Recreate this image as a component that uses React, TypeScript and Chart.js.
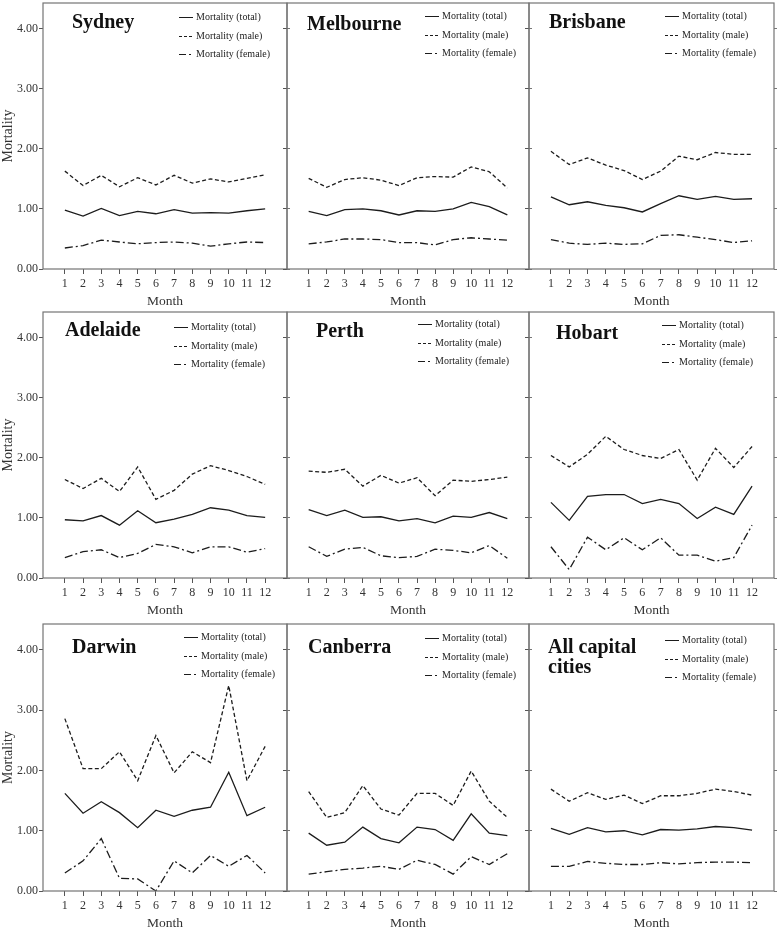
import React, { useEffect, useRef } from "react";
import { Chart, registerables } from "chart.js";

Chart.register(...registerables);

const FONT = "'Liberation Serif', 'Times New Roman', serif";

// ---------- DATA ----------
const MONTHS = [1, 2, 3, 4, 5, 6, 7, 8, 9, 10, 11, 12];
const Y_TICKS = [0, 1, 2, 3, 4];
const Y_TICK_LABELS = ["0.00", "1.00", "2.00", "3.00", "4.00"];
const SERIES_LABELS = ["Mortality (total)", "Mortality (male)", "Mortality (female)"];
const X_TITLE = "Month";
const Y_TITLE = "Mortality";

const CITY_TITLES = [
  ["Sydney"],
  ["Melbourne"],
  ["Brisbane"],
  ["Adelaide"],
  ["Perth"],
  ["Hobart"],
  ["Darwin"],
  ["Canberra"],
  ["All capital", "cities"],
];

const SYDNEY_TOTAL = [0.98, 0.88, 1.01, 0.89, 0.96, 0.92, 0.99, 0.93, 0.94, 0.93, 0.97, 1.0];
const SYDNEY_MALE = [1.63, 1.39, 1.56, 1.37, 1.52, 1.4, 1.56, 1.43, 1.5, 1.45, 1.51, 1.57];
const SYDNEY_FEMALE = [0.35, 0.39, 0.48, 0.45, 0.42, 0.44, 0.45, 0.43, 0.38, 0.42, 0.45, 0.44];

const MELBOURNE_TOTAL = [0.96, 0.89, 0.99, 1.0, 0.97, 0.9, 0.97, 0.96, 1.0, 1.11, 1.04, 0.9];
const MELBOURNE_MALE = [1.51, 1.36, 1.49, 1.52, 1.48, 1.39, 1.52, 1.54, 1.53, 1.7, 1.62, 1.35];
const MELBOURNE_FEMALE = [0.42, 0.45, 0.5, 0.5, 0.49, 0.44, 0.44, 0.4, 0.49, 0.52, 0.5, 0.48];

const BRISBANE_TOTAL = [1.2, 1.07, 1.12, 1.06, 1.02, 0.95, 1.09, 1.22, 1.16, 1.21, 1.16, 1.17];
const BRISBANE_MALE = [1.96, 1.74, 1.85, 1.73, 1.64, 1.49, 1.63, 1.88, 1.82, 1.94, 1.91, 1.91];
const BRISBANE_FEMALE = [0.49, 0.43, 0.41, 0.43, 0.41, 0.42, 0.56, 0.57, 0.53, 0.49, 0.44, 0.47];

const ADELAIDE_TOTAL = [0.97, 0.95, 1.04, 0.88, 1.12, 0.92, 0.98, 1.06, 1.17, 1.13, 1.04, 1.01];
const ADELAIDE_MALE = [1.64, 1.49, 1.66, 1.44, 1.85, 1.31, 1.46, 1.73, 1.87, 1.79, 1.69, 1.56];
const ADELAIDE_FEMALE = [0.34, 0.44, 0.47, 0.34, 0.41, 0.56, 0.52, 0.42, 0.52, 0.52, 0.43, 0.49];

const PERTH_TOTAL = [1.14, 1.04, 1.13, 1.01, 1.02, 0.95, 0.99, 0.92, 1.03, 1.01, 1.09, 0.99];
const PERTH_MALE = [1.78, 1.76, 1.81, 1.53, 1.71, 1.58, 1.67, 1.37, 1.63, 1.61, 1.64, 1.68];
const PERTH_FEMALE = [0.52, 0.36, 0.48, 0.51, 0.37, 0.34, 0.36, 0.48, 0.46, 0.42, 0.54, 0.33];

const HOBART_TOTAL = [1.26, 0.96, 1.36, 1.39, 1.39, 1.24, 1.31, 1.24, 0.99, 1.18, 1.06, 1.53];
const HOBART_MALE = [2.04, 1.85, 2.06, 2.36, 2.14, 2.04, 1.99, 2.14, 1.63, 2.16, 1.84, 2.19];
const HOBART_FEMALE = [0.52, 0.14, 0.68, 0.47, 0.67, 0.47, 0.67, 0.38, 0.38, 0.28, 0.34, 0.88];

const DARWIN_TOTAL = [1.62, 1.29, 1.48, 1.3, 1.05, 1.34, 1.24, 1.34, 1.39, 1.97, 1.25, 1.39];
const DARWIN_MALE = [2.86, 2.03, 2.03, 2.31, 1.83, 2.58, 1.96, 2.31, 2.13, 3.41, 1.83, 2.4];
const DARWIN_FEMALE = [0.3, 0.5, 0.87, 0.21, 0.2, 0.0, 0.5, 0.3, 0.59, 0.41, 0.59, 0.3];

const CANBERRA_TOTAL = [0.96, 0.76, 0.81, 1.06, 0.87, 0.8, 1.06, 1.02, 0.84, 1.28, 0.96, 0.92];
const CANBERRA_MALE = [1.65, 1.22, 1.3, 1.75, 1.36, 1.26, 1.62, 1.62, 1.42, 1.99, 1.49, 1.22];
const CANBERRA_FEMALE = [0.28, 0.32, 0.36, 0.38, 0.41, 0.36, 0.51, 0.44, 0.28, 0.57, 0.44, 0.62];

const ALL_TOTAL = [1.04, 0.94, 1.05, 0.98, 1.0, 0.93, 1.02, 1.01, 1.03, 1.07, 1.05, 1.01];
const ALL_MALE = [1.69, 1.49, 1.63, 1.52, 1.59, 1.45, 1.58, 1.58, 1.62, 1.69, 1.65, 1.59];
const ALL_FEMALE = [0.41, 0.41, 0.49, 0.46, 0.44, 0.44, 0.47, 0.45, 0.47, 0.48, 0.48, 0.47];

const SERIES = [
  [SYDNEY_TOTAL, SYDNEY_MALE, SYDNEY_FEMALE],
  [MELBOURNE_TOTAL, MELBOURNE_MALE, MELBOURNE_FEMALE],
  [BRISBANE_TOTAL, BRISBANE_MALE, BRISBANE_FEMALE],
  [ADELAIDE_TOTAL, ADELAIDE_MALE, ADELAIDE_FEMALE],
  [PERTH_TOTAL, PERTH_MALE, PERTH_FEMALE],
  [HOBART_TOTAL, HOBART_MALE, HOBART_FEMALE],
  [DARWIN_TOTAL, DARWIN_MALE, DARWIN_FEMALE],
  [CANBERRA_TOTAL, CANBERRA_MALE, CANBERRA_FEMALE],
  [ALL_TOTAL, ALL_MALE, ALL_FEMALE],
];

// ---------- LAYOUT ----------
const COL_LEFT = [43, 287, 529];
const COL_RIGHT = [287, 529, 774];
const ROW_TOP = [3, 312, 624];
const ROW_BOTTOM = [269, 578, 891];
const PAD_T = 10;
const PAD_B = 41;
const PAD_R = 5;
const PAD_L_INNER = 8;

const TITLE_DX = [29, 20, 20, 22, 29, 27, 29, 21, 19];
const TITLE_DY = [25, 27, 25, 24, 25, 27, 29, 29, 29];
const LEGEND_DX = [91, 87, 92, 96, 94, 95, 86, 87, 92];
const LEGEND_DY = [14, 13, 13, 15, 12, 13, 13, 14, 16];

const LINE_DASH = [[], [4, 2.5], [8, 3, 2, 3]];
const LEGEND_DASH = [[], [3, 2], [7, 3, 2, 3]];
const INK = "#1c1c1c";

const decoPlugin = {
  id: "panelDeco",
  afterDraw(chart: any, _args: any, opts: any) {
    const { ctx, chartArea: a } = chart;
    ctx.save();
    ctx.strokeStyle = "#747474";
    ctx.lineWidth = 1.2;
    ctx.setLineDash([]);
    ctx.strokeRect(a.left, a.top, a.right - a.left, a.bottom - a.top);

    ctx.fillStyle = "#111";
    ctx.font = `bold 20px ${FONT}`;
    ctx.textAlign = "left";
    ctx.textBaseline = "alphabetic";
    (opts.title || []).forEach((t: string, i: number) => {
      ctx.fillText(t, a.left + opts.titleDx, a.top + opts.titleDy + i * 20);
    });

    ctx.font = `10px ${FONT}`;
    ctx.textBaseline = "middle";
    const tx = a.right - opts.legendDx;
    chart.data.datasets.forEach((ds: any, i: number) => {
      const y = Math.round(a.top + opts.legendDy + i * 18.5) + 0.5;
      ctx.beginPath();
      ctx.setLineDash(LEGEND_DASH[i]);
      ctx.strokeStyle = INK;
      ctx.lineWidth = 1;
      ctx.moveTo(tx - 17, y);
      ctx.lineTo(tx - 3, y);
      ctx.stroke();
      ctx.setLineDash([]);
      ctx.fillStyle = "#222";
      ctx.fillText(ds.label, tx, y);
    });
    ctx.restore();
  },
};

function Panel({ index }: { index: number }) {
  const ref = useRef<HTMLCanvasElement | null>(null);
  const col = index % 3;
  const row = Math.floor(index / 3);
  const padL = col === 0 ? COL_LEFT[0] : PAD_L_INNER;
  const chartW = COL_RIGHT[col] - COL_LEFT[col];
  const chartH = ROW_BOTTOM[row] - ROW_TOP[row];
  const width = padL + chartW + PAD_R;
  const height = PAD_T + chartH + PAD_B;
  const left = COL_LEFT[col] - padL;
  const top = ROW_TOP[row] - PAD_T;

  useEffect(() => {
    if (!ref.current) return;
    const showY = col === 0;
    const datasets = SERIES[index].map((vals, s) => ({
      label: SERIES_LABELS[s],
      data: MONTHS.map((m, i) => ({ x: m, y: vals[i] })),
      borderColor: INK,
      borderWidth: 1.3,
      borderDash: LINE_DASH[s],
      pointRadius: 0,
      tension: 0,
      fill: false,
    }));
    const chart = new Chart(ref.current, {
      type: "line",
      data: { datasets },
      plugins: [decoPlugin],
      options: {
        animation: false,
        responsive: false,
        maintainAspectRatio: false,
        layout: { padding: { top: PAD_T, left: 0, right: 0, bottom: 0 } },
        plugins: {
          legend: { display: false },
          tooltip: { enabled: false },
          title: { display: false },
          panelDeco: {
            title: CITY_TITLES[index],
            titleDx: TITLE_DX[index],
            titleDy: TITLE_DY[index],
            legendDx: LEGEND_DX[index],
            legendDy: LEGEND_DY[index],
          },
        } as any,
        scales: {
          x: {
            type: "linear",
            min: -0.2,
            max: 13.2,
            afterBuildTicks: (s: any) => {
              s.ticks = MONTHS.map((v) => ({ value: v }));
            },
            afterFit: (s: any) => {
              s.height = PAD_B;
            },
            grid: {
              drawOnChartArea: false,
              drawTicks: true,
              tickLength: 5,
              color: "#555",
              lineWidth: 1,
            },
            border: { display: false },
            ticks: {
              color: "#333",
              font: { family: FONT, size: 12 },
              padding: 3,
              maxRotation: 0,
              autoSkip: false,
              callback: (v: any) => String(v),
            },
            title: {
              display: true,
              text: X_TITLE,
              color: "#333",
              font: { family: FONT, size: 13.5 },
              padding: { top: 0, bottom: 0 },
            },
          },
          y: {
            type: "linear",
            position: "left",
            min: 0,
            max: 4.43,
            afterBuildTicks: (s: any) => {
              s.ticks = Y_TICKS.map((v) => ({ value: v }));
            },
            afterFit: (s: any) => {
              s.width = padL;
            },
            grid: {
              drawOnChartArea: false,
              drawTicks: true,
              tickLength: 4,
              color: "#555",
              lineWidth: 1,
            },
            border: { display: false },
            ticks: {
              display: showY,
              color: "#333",
              font: { family: FONT, size: 12 },
              padding: 1,
              callback: (v: any) => Y_TICK_LABELS[Y_TICKS.indexOf(Number(v))] ?? "",
            },
            title: {
              display: showY,
              text: Y_TITLE,
              color: "#333",
              font: { family: FONT, size: 14 },
              padding: { top: 0, bottom: 0 },
            },
          },
          yRight: {
            type: "linear",
            position: "right",
            min: 0,
            max: 4.43,
            afterBuildTicks: (s: any) => {
              s.ticks = Y_TICKS.map((v) => ({ value: v }));
            },
            afterFit: (s: any) => {
              s.width = PAD_R;
            },
            grid: {
              drawOnChartArea: false,
              drawTicks: true,
              tickLength: 3,
              color: "#777",
              lineWidth: 1,
            },
            border: { display: false },
            ticks: { display: false },
          },
        },
      } as any,
    });
    return () => chart.destroy();
  }, [index]);

  return (
    <canvas
      ref={ref}
      width={width}
      height={height}
      style={{ position: "absolute", left, top, width, height }}
    />
  );
}

export default function App() {
  return (
    <div
      style={{
        position: "absolute",
        left: 0,
        top: 0,
        width: 778,
        height: 931,
        background: "#fff",
        overflow: "hidden",
      }}
    >
      {CITY_TITLES.map((_, i) => (
        <Panel key={i} index={i} />
      ))}
    </div>
  );
}
